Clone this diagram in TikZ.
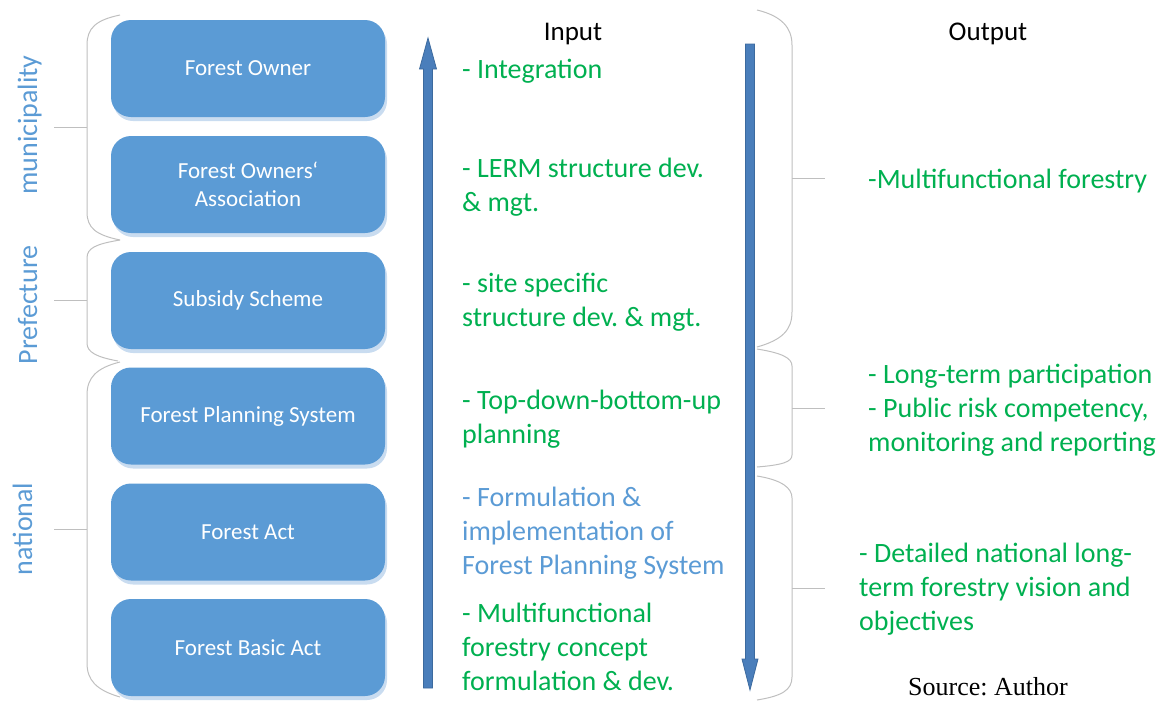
\documentclass[tikz,border=0pt]{standalone}
\usepackage{fontspec}
\setmainfont{Carlito}
\newfontfamily\srcfont{Liberation Serif}
\usetikzlibrary{shadows}
\frenchspacing
\definecolor{boxblue}{HTML}{5B9BD5}
\definecolor{shadblue}{HTML}{C9DCF0}
\definecolor{arrblue}{HTML}{4A7EBB}
\definecolor{arrline}{HTML}{3C6A9E}
\definecolor{txtgreen}{HTML}{00B050}
\definecolor{bracegray}{HTML}{BFBFBF}
\tikzset{
  box/.style={rectangle, rounded corners=20pt, fill=boxblue, minimum width=274pt, minimum height=97pt,
    inner sep=0pt, text=white, align=center, font=\fontsize{23}{28}\selectfont,
    drop shadow={shadow xshift=2pt, shadow yshift=-4pt, fill=shadblue, opacity=1}},
  sidelabel/.style={rotate=90, anchor=base, inner sep=0pt, text=boxblue, font=\fontsize{28}{34}\selectfont},
  gtext/.style={anchor=base west, inner sep=0pt, align=left, text=txtgreen, font=\fontsize{28}{34}\selectfont},
  btext/.style={gtext, text=boxblue},
  head/.style={anchor=base, inner sep=0pt, text=black, font=\fontsize{27}{32}\selectfont},
  brace/.style={draw=bracegray, line width=1pt},
  bigarrow/.style={fill=arrblue, draw=arrline, line width=0.8pt, line join=miter}
}
\begin{document}
\begin{tikzpicture}[x=1pt,y=-1pt]
\useasboundingbox (0,0) rectangle (1163,702);
% boxes
\node[box] (b1) at (248,68.5) {Forest Owner};
\node[box] (b2) at (248,184.5) {Forest Owners‘\\Association};
\node[box] (b3) at (248,300.5) {Subsidy Scheme};
\node[box] (b4) at (248,416) {Forest Planning System};
\node[box] (b5) at (248,532) {Forest Act};
\node[box] (b6) at (248,647.5) {Forest Basic Act};
% side labels
\node[sidelabel] (lm) at (37,125) {municipality};
\node[sidelabel] (lp) at (37,305) {Prefecture};
\node[sidelabel] (ln) at (32,529) {national};
% left braces
\draw[brace] (120,15) .. controls (96,20) and (87,28) .. (87,45) -- (87,212) .. controls (87,228) and (96,235) .. (120,240);
\draw[brace] (54,127) -- (87,127);
\draw[brace] (120,240) .. controls (96,244) and (87,248) .. (87,258) -- (87,343) .. controls (87,352) and (96,357) .. (118,361);
\draw[brace] (54,300) -- (87,300);
\draw[brace] (120,362) .. controls (96,368) and (87,378) .. (87,395) -- (87,663) .. controls (87,680) and (96,690) .. (120,697);
\draw[brace] (54,529) -- (87,529);
% right braces
\draw[brace] (757,10) .. controls (782,16) and (792,28) .. (792,45) -- (792,312) .. controls (792,330) and (782,340) .. (757,347);
\draw[brace] (792,178) -- (825,178);
\draw[brace] (757,349) .. controls (782,353) and (792,358) .. (792,366) -- (792,455) .. controls (792,462) and (782,465) .. (757,467);
\draw[brace] (792,408) -- (825,408);
\draw[brace] (757,476) .. controls (782,480) and (792,488) .. (792,498) -- (792,677) .. controls (792,690) and (782,696) .. (757,700);
\draw[brace] (792,588) -- (825,588);
% arrows
\coordinate (upTip) at (428,38);
\coordinate (upEnd) at (428,688);
\coordinate (dnTip) at (750,690);
\coordinate (dnEnd) at (750,44);
\draw[bigarrow] ([xshift=-4.5pt]upEnd) -- ([xshift=-4.5pt]upEnd |- 0,69) -- (419.5,69) -- (upTip) -- (436.5,69) -- ([xshift=4.5pt]upEnd |- 0,69) -- ([xshift=4.5pt]upEnd) -- cycle;
\draw[bigarrow] ([xshift=-4.5pt]dnEnd) -- ([xshift=-4.5pt]dnEnd |- 0,659) -- (742,659) -- (dnTip) -- (758,659) -- ([xshift=4.5pt]dnEnd |- 0,659) -- ([xshift=4.5pt]dnEnd) -- cycle;
% headings
\node[head] (hin) at (573,40) {Input};
\node[head] (hout) at (988,40) {Output};
% input texts (anchor = baseline of last line)
\node[gtext] (i1) at (462,78) {- Integration};
\node[gtext] (i2) at (462,211) {- LERM structure dev.\\\& mgt.};
\node[gtext] (i3) at (462,326) {- site specific\\structure dev. \& mgt.};
\node[gtext] (i4) at (462,443) {- Top-down-bottom-up\\planning};
\node[btext] (i5) at (462,574) {- Formulation \&\\implementation of\\Forest Planning System};
\node[gtext] (i6) at (462,690) {- Multifunctional\\forestry concept\\formulation \& dev.};
% output texts
\node[gtext] (o1) at (868,188) {-Multifunctional forestry};
\node[gtext] (o2) at (868,451) {- Long-term participation\\- Public risk competency,\\monitoring and reporting};
\node[gtext] (o3) at (859,630) {- Detailed national long-\\term forestry vision and\\objectives};
\node[anchor=base west, inner sep=0pt, font=\srcfont\fontsize{26}{30}\selectfont] (src) at (908,695) {Source: Author};
\end{tikzpicture}
\end{document}
